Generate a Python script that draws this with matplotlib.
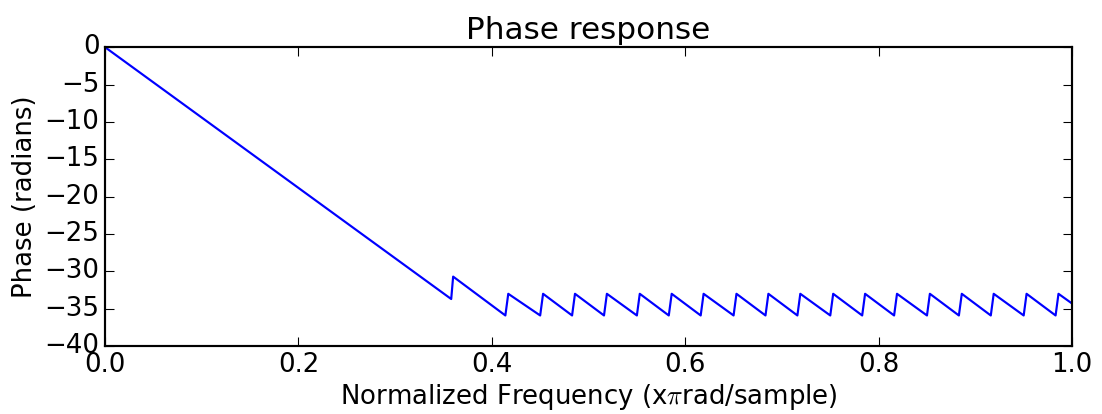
#!/usr/bin/env python3
"""Phase response of a 61-tap FIR lowpass (unwrapped)."""

import matplotlib

matplotlib.use("Agg")
import matplotlib.pyplot as plt

plt.style.use("classic")
plt.rcParams["savefig.facecolor"] = "white"
plt.rcParams["figure.facecolor"] = "white"
plt.rcParams["xtick.major.pad"] = 2.5
plt.rcParams["ytick.major.pad"] = 2.5

# passband: linear phase down to the first stopband zero
PASS_FREQ = [0.0, 0.358]
PASS_PHASE = [0.0, -33.7]

# first jump of +pi at the start of the stopband
FIRST_TOP_FREQ = 0.360
FIRST_TOP_PHASE = -30.7

# stopband zeros: phase bottoms out then jumps back up by pi
ZERO_FREQ = [0.414, 0.450, 0.483, 0.516, 0.550, 0.583, 0.616, 0.650, 0.683,
             0.716, 0.750, 0.783, 0.816, 0.850, 0.883, 0.916, 0.950, 0.983]
BOTTOM_PHASE = -35.9
TOP_PHASE = -33.0
JUMP_WIDTH = 0.003

END_FREQ = 1.0
END_PHASE = -34.3

DPI = 156


def build_line():
    freq = list(PASS_FREQ) + [FIRST_TOP_FREQ]
    phase = list(PASS_PHASE) + [FIRST_TOP_PHASE]
    for f in ZERO_FREQ:
        freq += [f, f + JUMP_WIDTH]
        phase += [BOTTOM_PHASE, TOP_PHASE]
    freq.append(END_FREQ)
    phase.append(END_PHASE)
    return freq, phase


def main():
    freq, phase = build_line()

    fig = plt.figure(figsize=(1102 / DPI, 414 / DPI), dpi=DPI)
    ax = fig.add_axes([0.0953, 0.164, 0.9728 - 0.0953, 0.886 - 0.164])
    ax.plot(freq, phase, color="b", linewidth=1.0)
    ax.set_xlim(0, 1)
    ax.set_ylim(-40, 0)
    ax.set_xticks([0.0, 0.2, 0.4, 0.6, 0.8, 1.0])
    ax.set_yticks(range(-40, 1, 5))
    ax.set_title("Phase response", pad=4)
    ax.set_xlabel(r"Normalized Frequency (x$\pi$rad/sample)", labelpad=2)
    ax.set_ylabel("Phase (radians)", labelpad=3)

    fig.savefig("out.png", dpi=DPI)
    plt.close(fig)


if __name__ == "__main__":
    main()
